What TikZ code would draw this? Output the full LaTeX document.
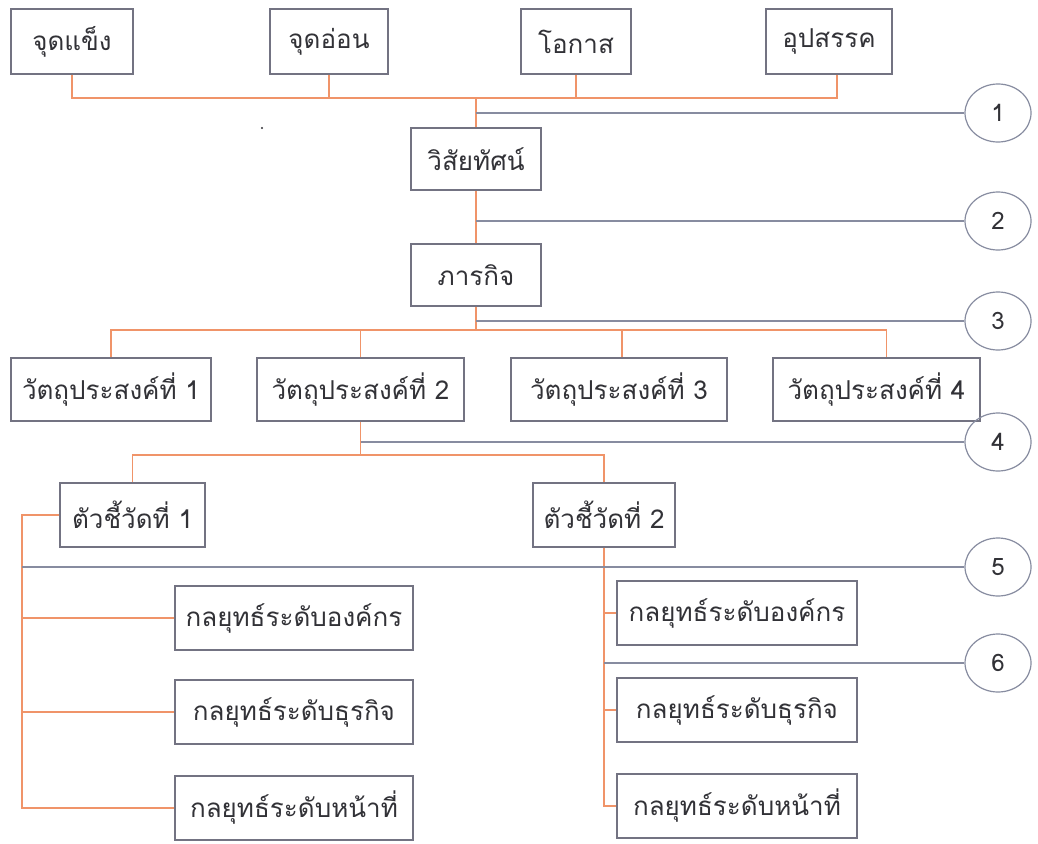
\documentclass[tikz,border=0pt]{standalone}
\usepackage{fontspec}
\newfontfamily\thaifont[Script=Thai]{Loma}
\usetikzlibrary{shapes.geometric}
\definecolor{orc}{RGB}{240,148,105}
\definecolor{gyc}{RGB}{135,140,160}
\definecolor{boxc}{RGB}{115,115,130}
\definecolor{txt}{RGB}{50,50,55}
\tikzset{
  box/.style={draw=boxc, line width=1.2pt, inner sep=0pt, text=txt, font=\thaifont\fontsize{26}{30}\selectfont},
  orl/.style={draw=orc, line width=1.5pt},
  gyl/.style={draw=gyc, line width=1.2pt},
  num/.style={draw=gyc, line width=1.2pt, ellipse, minimum width=66pt, minimum height=58pt, inner sep=0pt, text=txt, font=\thaifont\fontsize{24}{28}\selectfont}
}
\begin{document}
\begin{tikzpicture}[x=1pt,y=-1pt]
\useasboundingbox (0,0) rectangle (1038,843);
\fill[white] (0,0) rectangle (1038,843);
% top row
\node[box, minimum width=122pt, minimum height=65pt] (s1) at (72,41.5) {จุดแข็ง};
\node[box, minimum width=118pt, minimum height=65pt] (s2) at (329,41.5) {จุดอ่อน};
\node[box, minimum width=110pt, minimum height=65pt] (s3) at (576,41.5) {โอกาส};
\node[box, minimum width=126pt, minimum height=65pt] (s4) at (829,41.5) {อุปสรรค};
\node[box, minimum width=130pt, minimum height=62pt] (vis) at (476,159) {วิสัยทัศน์};
\node[box, minimum width=130pt, minimum height=62pt] (mis) at (476,275) {ภารกิจ};
% objectives
\node[box, minimum width=200pt, minimum height=63pt] (o1) at (111,389.5) {วัตถุประสงค์ที่ 1};
\node[box, minimum width=207pt, minimum height=63pt] (o2) at (360.5,389.5) {วัตถุประสงค์ที่ 2};
\node[box, minimum width=216pt, minimum height=63pt] (o3) at (619,389.5) {วัตถุประสงค์ที่ 3};
\node[box, minimum width=207pt, minimum height=63pt] (o4) at (876.5,389.5) {วัตถุประสงค์ที่ 4};
% indicators
\node[box, minimum width=145pt, minimum height=64pt] (k1) at (132.5,515) {ตัวชี้วัดที่ 1};
\node[box, minimum width=142pt, minimum height=64pt] (k2) at (604,515) {ตัวชี้วัดที่ 2};
% strategies
\node[box, minimum width=238pt, minimum height=64pt] (L1) at (294,618) {กลยุทธ์ระดับองค์กร};
\node[box, minimum width=238pt, minimum height=64pt] (L2) at (294,712) {กลยุทธ์ระดับธุรกิจ};
\node[box, minimum width=238pt, minimum height=64pt] (L3) at (294,808) {กลยุทธ์ระดับหน้าที่};
\node[box, minimum width=240pt, minimum height=64pt] (R1) at (737,613) {กลยุทธ์ระดับองค์กร};
\node[box, minimum width=240pt, minimum height=64pt] (R2) at (737,710) {กลยุทธ์ระดับธุรกิจ};
\node[box, minimum width=240pt, minimum height=64pt] (R3) at (737,806) {กลยุทธ์ระดับหน้าที่};
% numbered circles
\node[num] (c1) at (998,113) {1};
\node[num] (c2) at (998,221) {2};
\node[num] (c3) at (998,321) {3};
\node[num] (c4) at (998,442) {4};
\node[num] (c5) at (998,567) {5};
\node[num] (c6) at (998,663) {6};
% orange connectors
\coordinate (j1) at (476,98);
\draw[orl] (s1.south) |- (j1) -| ([xshift=8pt]s4.south);
\draw[orl] (s2.south) -- (s2.south |- j1);
\draw[orl] (s3.south) -- (s3.south |- j1);
\draw[orl] (j1) -- (vis.north);
\draw[orl] (vis.south) -- (mis.north);
\coordinate (j3) at (476,330);
\draw[orl] (mis.south) -- (j3);
\draw[orl] (o1.north) |- (j3) -| ([xshift=10pt]o4.north);
\draw[orl] (o2.north) -- (o2.north |- j3);
\draw[orl] ([xshift=3pt]o3.north) -- ([xshift=3pt]o3.north |- j3);
\coordinate (j4) at (360.5,455);
\draw[orl] (o2.south) -- (j4);
\draw[orl] (k1.north) |- (j4) -| (k2.north);
\coordinate (lx) at (22,0);
\draw[orl] (k1.west) -| (lx |- L3.west) -- (L3.west);
\draw[orl] (lx |- L1.west) -- (L1.west);
\draw[orl] (lx |- L2.west) -- (L2.west);
\draw[orl] (k2.south) |- (R3.west);
\draw[orl] (k2.south |- R1.west) -- (R1.west);
\draw[orl] (k2.south |- R2.west) -- (R2.west);
% gray connectors
\draw[gyl] (vis.north |- c1.west) -- (c1.west);
\draw[gyl] (vis.south |- c2.west) -- (c2.west);
\draw[gyl] (mis.south |- c3.west) -- (c3.west);
\draw[gyl] (o2.south |- c4.west) -- (c4.west);
\draw[gyl] (lx |- c5.west) -- (c5.west);
\draw[gyl] (k2.south |- c6.west) -- (c6.west);
% speck
\fill[txt] (262,128) circle (1.2pt);
\end{tikzpicture}
\end{document}
